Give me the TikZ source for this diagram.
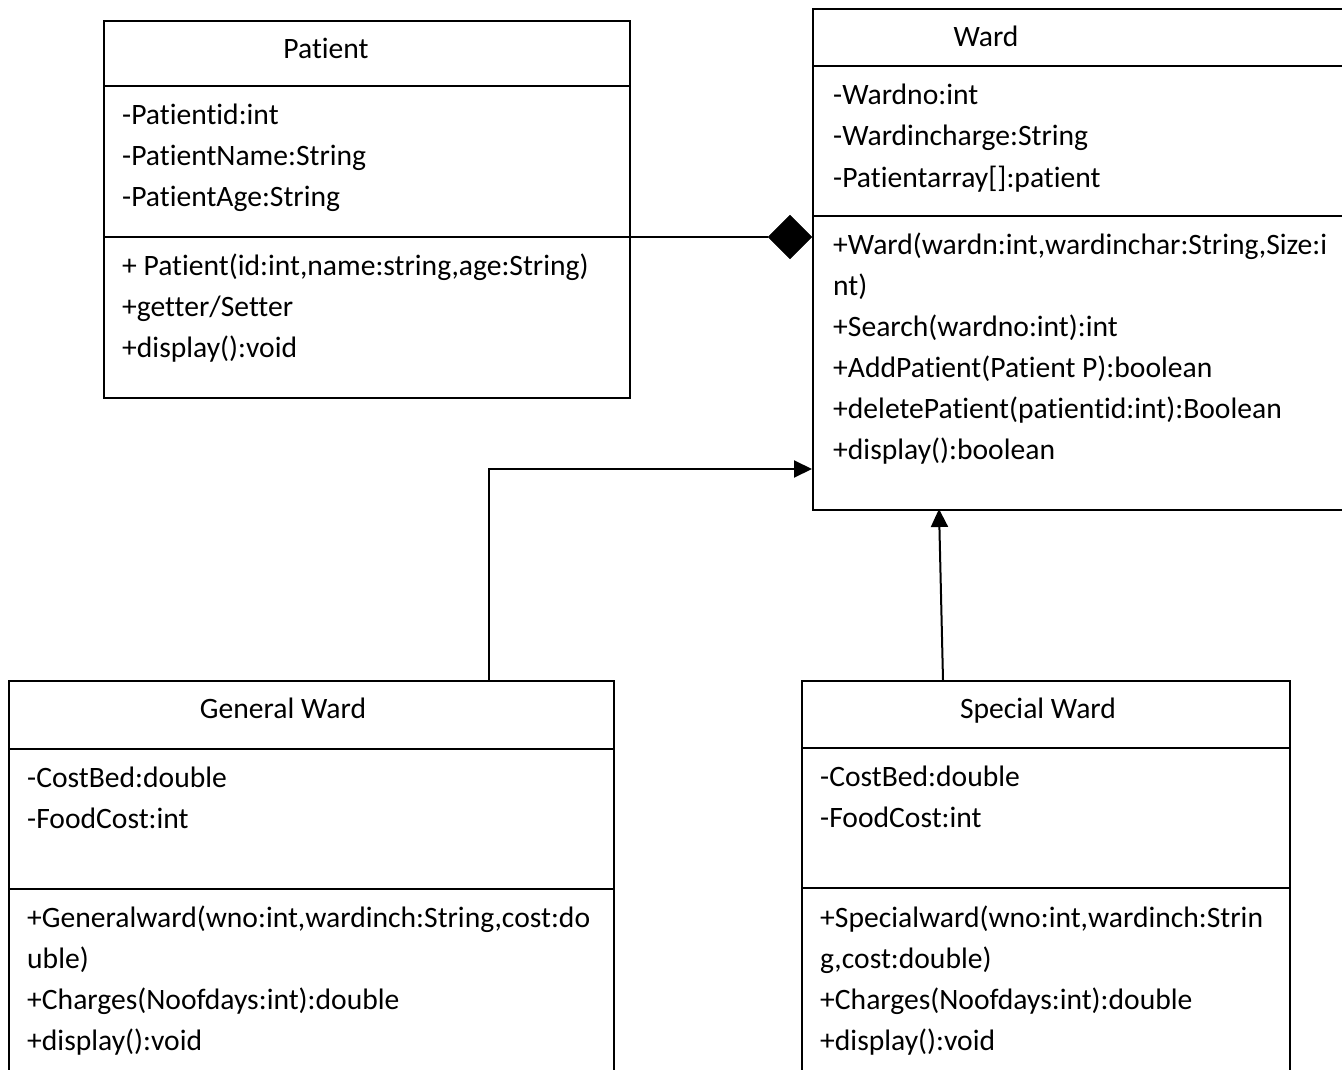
\documentclass[tikz,border=0pt]{standalone}
\usepackage{fontspec}
\setmainfont{Carlito}[Ligatures=NoCommon]
\usetikzlibrary{arrows.meta,shapes.geometric}
\begin{document}
\begin{tikzpicture}[x=1pt,y=-1pt,
  box/.style={draw=black,line width=1.6pt,rectangle,inner sep=0pt,anchor=north west},
  divider/.style={draw=black,line width=1.6pt},
  txt/.style={anchor=base west,inner sep=0pt,font=\fontsize{29.6}{41}\selectfont},
  ttl/.style={anchor=base,inner sep=0pt,font=\fontsize{29.6}{41}\selectfont},
  conn/.style={draw=black,line width=2pt},
  gen/.style={conn,-{Triangle[length=18pt,width=17pt]}}]
\useasboundingbox (0,0) rectangle (1342,1070);
\clip (0,0) rectangle (1342,1070);
% ---- Patient ----
\node[box,minimum width=526pt,minimum height=377pt] (patient) at (103,20) {};
\draw[divider] (103,86) -- (629,86);
\draw[divider] (103,237) coordinate (pd2w) -- (629,237) coordinate (pd2e);
\node[ttl] (pt) at (326,59) {Patient};
\node[txt] (pa1) at (122,125) {-Patientid:int};
\node[txt] (pa2) at (122,166) {-PatientName:String};
\node[txt] (pa3) at (122,207) {-PatientAge:String};
\node[txt] (pm1) at (122,275) {+ Patient(id:int,name:string,age:String)};
\node[txt] (pm2) at (122,316) {+getter/Setter};
\node[txt] (pm3) at (122,357) {+display():void};
% ---- Ward ----
\node[box,minimum width=540pt,minimum height=501pt] (ward) at (812,8) {};
\draw[divider] (812,66) -- (1350,66);
\draw[divider] (812,216) -- (1350,216);
\node[ttl] (wt) at (986,47) {Ward};
\node[txt] (wa1) at (833,105) {-Wardno:int};
\node[txt] (wa2) at (833,146) {-Wardincharge:String};
\node[txt] (wa3) at (833,187) {-Patientarray[]:patient};
\node[txt] (wm1) at (833,254) {+Ward(wardn:int,wardinchar:String,Size:i};
\node[txt] (wm1b) at (833,295) {nt)};
\node[txt] (wm2) at (833,336) {+Search(wardno:int):int};
\node[txt] (wm3) at (833,377) {+AddPatient(Patient P):boolean};
\node[txt] (wm4) at (833,418) {+deletePatient(patientid:int):Boolean};
\node[txt] (wm5) at (833,459) {+display():boolean};
% ---- General Ward ----
\node[box,minimum width=605pt,minimum height=420pt] (gw) at (8,680) {};
\draw[divider] (8,749) -- (613,749);
\draw[divider] (8,889) -- (613,889);
\node[ttl] (gt) at (283,718) {General Ward};
\node[txt] (ga1) at (27,787) {-CostBed:double};
\node[txt] (ga2) at (27,828) {-FoodCost:int};
\node[txt] (gm1) at (27,927) {+Generalward(wno:int,wardinch:String,cost:do};
\node[txt] (gm1b) at (27,968) {uble)};
\node[txt] (gm2) at (27,1009) {+Charges(Noofdays:int):double};
\node[txt] (gm3) at (27,1050) {+display():void};
% ---- Special Ward ----
\node[box,minimum width=488pt,minimum height=420pt] (sw) at (801,680) {};
\draw[divider] (801,748) -- (1289,748);
\draw[divider] (801,888) -- (1289,888);
\node[ttl] (st) at (1038,718) {Special Ward};
\node[txt] (sa1) at (820,786) {-CostBed:double};
\node[txt] (sa2) at (820,827) {-FoodCost:int};
\node[txt] (sm1) at (820,927) {+Specialward(wno:int,wardinch:Strin};
\node[txt] (sm1b) at (820,968) {g,cost:double)};
\node[txt] (sm2) at (820,1009) {+Charges(Noofdays:int):double};
\node[txt] (sm3) at (820,1050) {+display():void};
% ---- Connectors ----
\node[diamond,fill=black,draw=black,inner sep=0pt,minimum width=44pt,minimum height=44pt] (comp) at (790,237) {};
\draw[conn] (pd2e) -- (comp.west);
\coordinate (gwtop) at (489,680);
\coordinate (gwbend) at (489,469);
\coordinate (wardin) at (812,469);
\draw[gen] (gwtop) -- (gwbend) -- (wardin);
\coordinate (swtop) at (943,680);
\coordinate (wardbot) at (939,509);
\draw[gen] (swtop) -- (wardbot);
\end{tikzpicture}
\end{document}
